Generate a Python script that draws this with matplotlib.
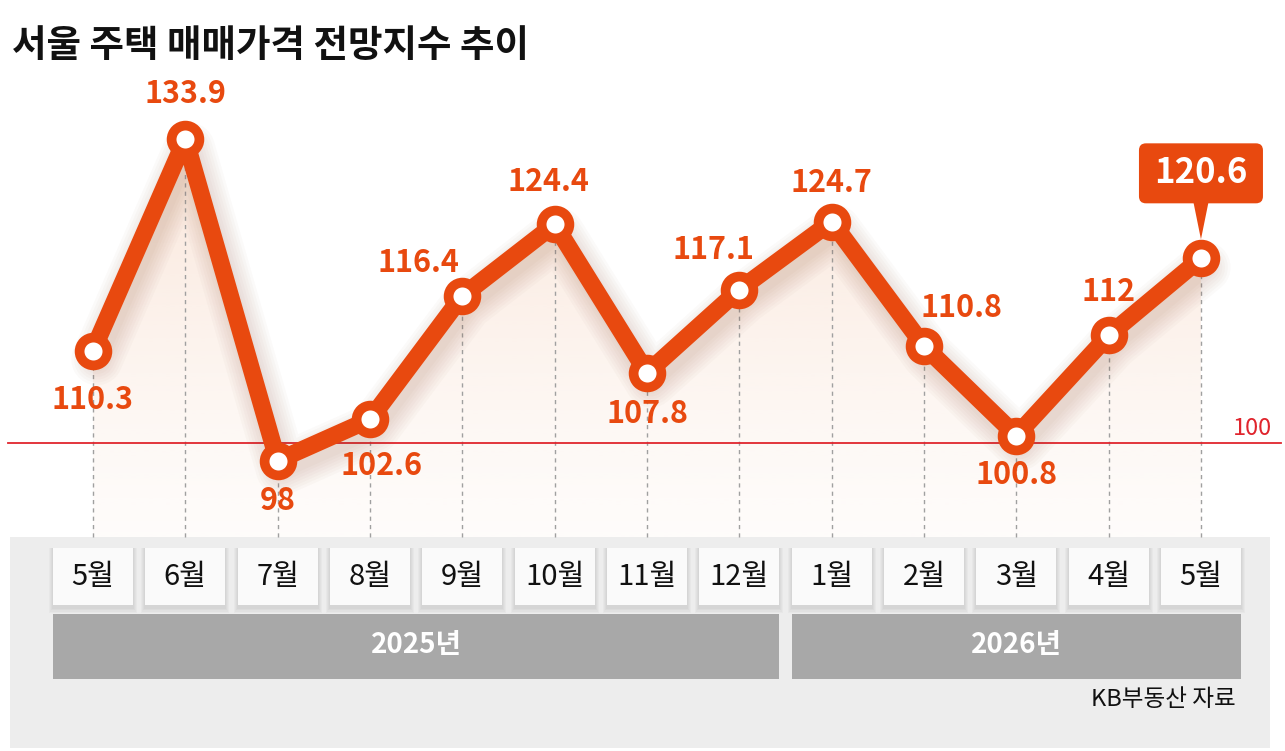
import matplotlib
matplotlib.use('Agg')
import matplotlib.pyplot as plt
import numpy as np
from matplotlib.patches import FancyBboxPatch, Rectangle, Polygon
from matplotlib import transforms
from matplotlib.colors import to_rgb

plt.rcParams['font.family'] = ['Noto Sans CJK KR', 'DejaVu Sans']

# ---------------- data ----------------
months = ['5월', '6월', '7월', '8월', '9월', '10월', '11월', '12월',
          '1월', '2월', '3월', '4월', '5월']
values = [110.3, 133.9, 98, 102.6, 116.4, 124.4, 107.8, 117.1,
          124.7, 110.8, 100.8, 112, 120.6]
years = ['2025년', '2026년']
year_counts = [8, 5]
title = '서울 주택 매매가격 전망지수 추이'
source = 'KB부동산 자료'
baseline = 100

# ---------------- style ----------------
ORANGE = '#E8490F'
RED = '#E0252D'
W, H = 1285, 751
# label offsets (pixels) relative to each point
label_offsets = [(0, -49), (0, 45), (0, -40), (12, -47), (-44, 33), (-6, 42),
                 (0, -41), (-26, 40), (0, 39), (37, 38), (0, -39), (0, 43), None]

fig = plt.figure(figsize=(W / 100, H / 100), dpi=100)
fig.patch.set_facecolor('white')
ax = fig.add_axes([0, 0, 1, 1])
ax.set_axis_off()

n = len(values)
x = np.arange(n)
XPX0, XSTEP = 93, 92.33
YA, YS = 1337.7, 8.95
xlim = (-XPX0 / XSTEP, (W - XPX0) / XSTEP)
ylim = ((YA - H) / YS, YA / YS)


def frac_y(px):
    return 1 - px / H


def yval(px):
    return ylim[0] + frac_y(px) * (ylim[1] - ylim[0])


blend = transforms.blended_transform_factory(ax.transData, ax.transAxes)

# ---------------- gradient fill under line ----------------
y_floor = yval(537)
verts = [(0, y_floor)] + list(zip(x, values)) + [(n - 1, y_floor)]
poly = Polygon(verts, closed=True, fc='none', ec='none')
ax.add_patch(poly)
grad = np.zeros((256, 1, 4))
grad[..., :3] = to_rgb('#F2C0A0')
grad[:, 0, 3] = 0.05 + 0.35 * np.linspace(1.0, 0.0, 256) ** 1.3
im = ax.imshow(grad, extent=[0, n - 1, y_floor, max(values)], aspect='auto',
               origin='upper', zorder=1, interpolation='bilinear')
im.set_clip_path(poly)

# ---------------- bottom panel ----------------
ax.add_patch(Rectangle((10 / W, frac_y(748)), 1260 / W, frac_y(537) - frac_y(748),
                       transform=ax.transAxes, fc='#EDEDED', ec='none', zorder=0.5))

# month boxes
bw = 80 / XSTEP
for i, m in enumerate(months):
    for k in range(4):
        e = (k + 1) * 2.0 / XSTEP
        ax.add_patch(Rectangle((i - bw / 2 - e * 0.5, frac_y(607 + (k + 1) * 1.5)),
                               bw + e, frac_y(548) - frac_y(607) + (k + 1) * 1.5 / H,
                               transform=blend, fc='#000000', alpha=0.025, ec='none', zorder=0.8))
    ax.add_patch(Rectangle((i - bw / 2, frac_y(605)), bw, frac_y(548) - frac_y(605),
                           transform=blend, fc='#FAFAFA', ec='none', zorder=0.9))
    ax.text(i, frac_y(577), m, transform=blend, ha='center', va='center',
            fontsize=21, color='#111111')

# year bars
start = 0
for yl, cnt in zip(years, year_counts):
    x0 = start - bw / 2
    x1 = start + cnt - 1 + bw / 2
    ax.add_patch(Rectangle((x0, frac_y(679)), x1 - x0, frac_y(614) - frac_y(679),
                           transform=blend, fc='#A8A8A8', ec='none', zorder=0.9))
    ax.text((x0 + x1) / 2, frac_y(645), yl, transform=blend, ha='center', va='center',
            fontsize=20, color='white', fontweight='bold')
    start += cnt

ax.text(1236 / W, frac_y(700), source, transform=ax.transAxes, ha='right', va='center',
        fontsize=17, color='#111111', fontweight='light')

# ---------------- dashed verticals ----------------
ax.vlines(x, [y_floor] * n, values, colors='#A0A0A0', linestyles=(0, (3, 3)),
          linewidth=1, zorder=1.5)

# ---------------- baseline ----------------
ax.plot([8 / W * (xlim[1] - xlim[0]) + xlim[0], 1281 / W * (xlim[1] - xlim[0]) + xlim[0]],
        [baseline, baseline], color=RED, lw=1.3, zorder=2.5)
ax.text(1272 / W, baseline + 0.3, str(baseline),
        transform=transforms.blended_transform_factory(ax.transAxes, ax.transData),
        ha='right', va='bottom', fontsize=17, color=RED, fontweight='light')

# ---------------- soft shadow ----------------
for k in range(7):
    sh = transforms.offset_copy(ax.transData, fig=fig, x=4, y=-9, units='dots')
    ax.plot(x, values, color='#7A3A1A', lw=13 + 4 * k, alpha=0.022,
            solid_capstyle='round', solid_joinstyle='round', transform=sh, zorder=3)

# ---------------- line & markers ----------------
ax.plot(x, values, color=ORANGE, lw=12.5, solid_joinstyle='round',
        solid_capstyle='round', zorder=4)
ax.plot(x, values, ls='none', marker='o', ms=20, mew=7, mec=ORANGE, mfc='white', zorder=5)

# value labels
for i, (v, off) in enumerate(zip(values, label_offsets)):
    if off is None:
        continue
    ax.annotate(f'{v:g}', xy=(i, v), xytext=off, textcoords='offset pixels',
                ha='center', va='center', fontsize=22, fontweight='bold',
                color=ORANGE, zorder=6)

# callout for latest value
tr = fig.dpi_scale_trans + transforms.ScaledTranslation(x[-1], values[-1], ax.transData)
r = 0.07
ax.add_patch(FancyBboxPatch((-0.62 + r, 0.55 + r), 1.24 - 2 * r, 0.60 - 2 * r,
                            boxstyle=f'round,pad={r},rounding_size={r}',
                            transform=tr, fc=ORANGE, ec='none', zorder=6))
ax.add_patch(Polygon([(-0.075, 0.56), (0.075, 0.56), (0, 0.19)], closed=True,
                     transform=tr, fc=ORANGE, ec='none', zorder=6))
ax.text(0, 0.855, f'{values[-1]:g}', transform=tr, ha='center', va='center',
        fontsize=25, fontweight='bold', color='white', zorder=7)

# ---------------- title ----------------
ax.text(12 / W, frac_y(46), title, transform=ax.transAxes, ha='left', va='center',
        fontsize=27, fontweight='bold', color='#111111')

ax.set_xlim(*xlim)
ax.set_ylim(*ylim)
fig.savefig('out.png', dpi=100, facecolor='white')
